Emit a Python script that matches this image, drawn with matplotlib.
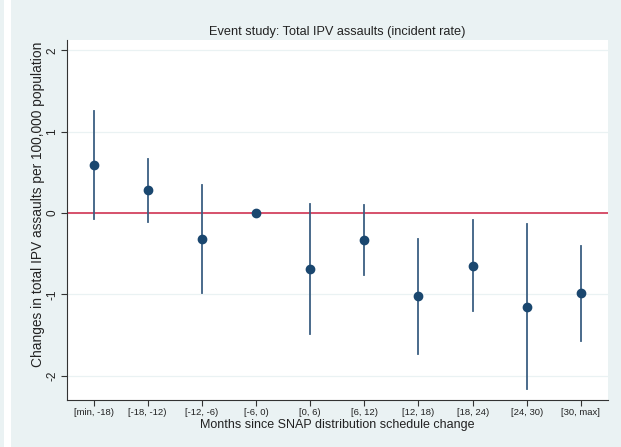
import matplotlib
matplotlib.use("Agg")
from matplotlib import pyplot as plt
from matplotlib.patches import Rectangle
import numpy as np

# event-time bins and estimates
bins = ["[min, -18)", "[-18, -12)", "[-12, -6)", "[-6, 0)", "[0, 6)",
        "[6, 12)", "[12, 18)", "[18, 24)", "[24, 30)", "[30, max]"]
coef = [0.585, 0.278, -0.32, 0.0, -0.69, -0.33, -1.02, -0.65, -1.156, -0.99]
ci_lo = [-0.074, -0.107, -0.985, 0.0, -1.485, -0.757, -1.73, -1.21, -2.17, -1.57]
ci_hi = [1.25, 0.664, 0.34, 0.0, 0.107, 0.10, -0.32, -0.09, -0.135, -0.402]
yticks = [-2, -1, 0, 1, 2]

bg = "#eaf2f3"
navy = "#1a476f"

plt.rcParams['font.family'] = ['Liberation Sans', 'DejaVu Sans']

fig = plt.figure(figsize=(6.21, 4.47), dpi=100, facecolor=bg)
# white strip at the left edge of the screenshot
fig.patches.append(Rectangle((4 / 621, 0), 7 / 621, 1, transform=fig.transFigure,
                             facecolor="white", edgecolor="none", zorder=-1))
ax = fig.add_axes([66.5 / 621, 47 / 447, (608 - 66.5) / 621, (400 - 40.5) / 447])
ax.set_facecolor("white")

x = np.arange(1, len(bins) + 1)
# confidence intervals (skip the reference bin)
for xi, lo, hi in zip(x, ci_lo, ci_hi):
    if hi != lo:
        ax.plot([xi, xi], [lo, hi], color="#3b5f82", lw=1.3, zorder=3)
ax.axhline(0, color="#d6506b", lw=1.4, zorder=2)
ax.plot(x, coef, "o", color=navy, ms=6, zorder=4)

ax.set_xlim(0.5, 10.5)
ax.set_ylim(-2.30, 2.12)
ax.set_xticks(x)
ax.set_xticklabels(bins, fontsize=6.8, color="#222222")
ax.set_yticks(yticks)
ax.set_yticklabels([str(v) for v in yticks], fontsize=8.5, color="#222222",
                   rotation=90, va="center")
ax.grid(axis="y", color="#eaf2f3", lw=0.9, zorder=0)
ax.set_axisbelow(True)

for s in ["top", "right"]:
    ax.spines[s].set_visible(False)
for s in ["left", "bottom"]:
    ax.spines[s].set_color("#333333")
    ax.spines[s].set_linewidth(0.8)
ax.tick_params(axis="both", direction="out", length=4, width=0.8, color="#333333", pad=2)

ax.set_title("Event study: Total IPV assaults (incident rate)", fontsize=9.2,
             color="#222222", pad=4)
ax.set_xlabel("Months since SNAP distribution schedule change", fontsize=9,
              color="#222222", labelpad=1.5)
ax.set_ylabel("Changes in total IPV assaults per 100,000 population", fontsize=9.9,
              color="#222222")
ax.yaxis.set_label_coords(-0.039, 0.545)

fig.savefig("out.png", dpi=100, facecolor=bg)
